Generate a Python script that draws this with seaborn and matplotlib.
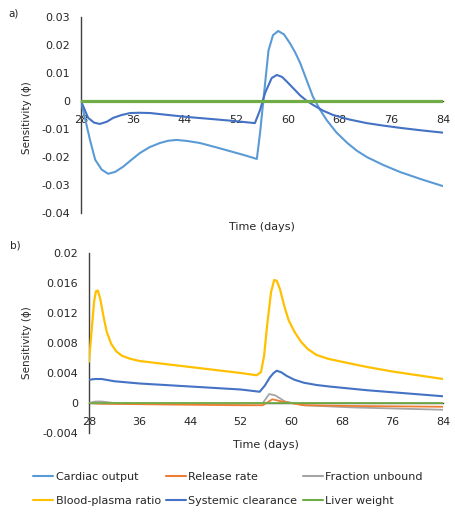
import numpy as np
import pandas as pd
import matplotlib
matplotlib.use("Agg")
import matplotlib.pyplot as plt
from matplotlib.lines import Line2D
import seaborn as sns

sns.set_style("white")
plt.rcParams['font.family'] = ['DejaVu Sans']

# colours (Excel office palette)
colors = {
    'Cardiac output': '#5B9BD5',
    'Release rate': '#ED7D31',
    'Fraction unbound': '#A5A5A5',
    'Blood-plasma ratio': '#FFC000',
    'Systemic clearance': '#4472C4',
    'Liver weight': '#70AD47',
}
# legend is filled row by row: 3 per row
legend_rows = [['Cardiac output', 'Release rate', 'Fraction unbound'],
               ['Blood-plasma ratio', 'Systemic clearance', 'Liver weight']]

# ---- panel a data ----
a_cardiac_days = [28, 28.6, 29.4, 30.2, 31.2, 32.2, 33.3, 34.5, 35.8, 37.1, 38.6, 40.2, 41.5,
                  42.8, 44.5, 46.4, 49, 51.5, 53.5, 55.2, 55.7, 56.2, 57, 57.7, 58.5, 59.4,
                  60.3, 61.1, 61.9, 62.9, 63.9, 65, 66, 67.5, 69.2, 70.7, 72.2, 74.8, 77.4,
                  80.7, 84]
a_cardiac_vals = [0, -0.006, -0.014, -0.021, -0.0245, -0.026, -0.0253, -0.0235, -0.021, -0.0186,
                  -0.0165, -0.015, -0.0142, -0.0139, -0.0143, -0.015, -0.0166, -0.0182, -0.0195,
                  -0.0207, -0.0114, 0, 0.018, 0.0235, 0.025, 0.0238, 0.0207, 0.0175, 0.0136,
                  0.0075, 0.0014, -0.0032, -0.0068, -0.0112, -0.015, -0.0178, -0.02, -0.0229,
                  -0.0254, -0.028, -0.0304]

a_clear_days = [28, 29.1, 30.0, 30.9, 32.0, 33.0, 34.3, 35.6, 37.0, 38.7, 41.5, 44.4, 48, 51.5,
                54.9, 55.7, 56.5, 57.5, 58.3, 59.1, 59.9, 60.9, 61.9, 62.9, 63.9, 65.4, 67,
                69.5, 72.2, 74.8, 77.4, 80.7, 84]
a_clear_vals = [0, -0.006, -0.0077, -0.0082, -0.0074, -0.006, -0.005, -0.0043, -0.0042, -0.0043,
                -0.005, -0.0057, -0.0064, -0.0071, -0.0079, -0.0032, 0.003, 0.0082, 0.0093,
                0.0086, 0.0068, 0.0044, 0.002, 0.0001, -0.0014, -0.0034, -0.005, -0.0066,
                -0.0079, -0.0088, -0.0096, -0.0105, -0.0113]

a_liver_days = [28, 84]
a_liver_vals = [0, 0]

# ---- panel b data ----
b_bp_days = [28, 28.4, 28.8, 29.1, 29.4, 29.8, 30.3, 30.8, 31.5, 32.3, 33.2, 34.5, 36, 40, 44,
             48, 52, 54.5, 55.2, 55.7, 56.2, 56.8, 57.3, 57.7, 58.2, 58.9, 59.6, 60.5, 61.5,
             62.6, 64, 65.8, 68, 72, 76, 80, 84]
b_bp_vals = [0.0055, 0.0095, 0.0135, 0.0149, 0.015, 0.0138, 0.0115, 0.0095, 0.0079, 0.0069,
             0.0063, 0.0059, 0.0056, 0.0052, 0.0048, 0.0044, 0.004, 0.0037, 0.0041, 0.0063,
             0.0105, 0.0148, 0.0164, 0.0163, 0.0152, 0.0129, 0.011, 0.0095, 0.0082, 0.0072,
             0.0064, 0.0059, 0.0055, 0.0048, 0.0042, 0.0037, 0.0032]

b_clear_days = [28, 29, 30, 32, 36, 44, 52, 55, 55.8, 56.6, 57.2, 57.7, 58.4, 59.3, 60.5, 62,
                64, 66, 72, 78, 84]
b_clear_vals = [0.0031, 0.0032, 0.0032, 0.0029, 0.0026, 0.0022, 0.0018, 0.0015, 0.0023, 0.0034,
                0.004, 0.0043, 0.0041, 0.0036, 0.0031, 0.0027, 0.0024, 0.0022, 0.0017, 0.0013,
                0.0009]

b_frac_days = [28, 29, 30, 32, 40, 52, 55.5, 56.5, 57.5, 59, 62, 70, 84]
b_frac_vals = [0, 0.0002, 0.0002, 0, -0.0001, -0.0001, 0, 0.0012, 0.001, 0.0002, -0.0003,
               -0.0006, -0.0009]

b_rel_days = [28, 30, 40, 52, 55.5, 57, 58.5, 62, 70, 84]
b_rel_vals = [0, -0.0001, -0.0002, -0.0003, -0.0003, 0.0005, 0.0002, -0.0003, -0.0004, -0.0005]

b_liver_days = [28, 84]
b_liver_vals = [0, 0]

a_yticks = [0.03, 0.02, 0.01, 0, -0.01, -0.02, -0.03, -0.04]
a_yticklabels = ['0.03', '0.02', '0.01', '0', '-0.01', '-0.02', '-0.03', '-0.04']
b_yticks = [0.02, 0.016, 0.012, 0.008, 0.004, 0, -0.004]
b_yticklabels = ['0.02', '0.016', '0.012', '0.008', '0.004', '0', '-0.004']
xticks = [28, 36, 44, 52, 60, 68, 76, 84]

fig = plt.figure(figsize=(4.56, 5.12), dpi=100)
ax_a = fig.add_axes([81 / 456, 1 - 213 / 512, 362 / 456, 196 / 512])
ax_b = fig.add_axes([89 / 456, 1 - 433 / 512, 354 / 456, 180 / 512])


def draw(ax, name, days, vals, lw):
    sns.lineplot(x=days, y=vals, ax=ax, color=colors[name], linewidth=lw, sort=False,
                 estimator=None, legend=False, zorder=3)


draw(ax_a, 'Cardiac output', a_cardiac_days, a_cardiac_vals, 1.5)
draw(ax_a, 'Systemic clearance', a_clear_days, a_clear_vals, 1.5)
draw(ax_a, 'Liver weight', a_liver_days, a_liver_vals, 2.3)

draw(ax_b, 'Fraction unbound', b_frac_days, b_frac_vals, 1.3)
draw(ax_b, 'Release rate', b_rel_days, b_rel_vals, 1.3)
draw(ax_b, 'Blood-plasma ratio', b_bp_days, b_bp_vals, 1.6)
draw(ax_b, 'Systemic clearance', b_clear_days, b_clear_vals, 1.5)
draw(ax_b, 'Liver weight', b_liver_days, b_liver_vals, 1.3)


def style(ax, yticks, yticklabels, ylim):
    ax.set_xlim(28, 84)
    ax.set_ylim(*ylim)
    ax.set_xticks(xticks)
    ax.set_yticks(yticks)
    ax.set_yticklabels(yticklabels)
    ax.spines['top'].set_visible(False)
    ax.spines['right'].set_visible(False)
    ax.spines['bottom'].set_position(('data', 0))
    for s in ['left', 'bottom']:
        ax.spines[s].set_color('#404040')
        ax.spines[s].set_linewidth(1.0)
    ax.tick_params(axis='both', labelsize=8, colors='#404040', labelcolor='#262626',
                   direction='out', length=3, width=0.8)
    ax.tick_params(axis='x', pad=7)
    ax.tick_params(axis='y', pad=5)
    ax.set_xlabel('')
    ax.set_ylabel('')
    ax.set_facecolor('none')


style(ax_a, a_yticks, a_yticklabels, (-0.04, 0.03))
style(ax_b, b_yticks, b_yticklabels, (-0.004, 0.02))

ax_a.text(0.5, -0.07, 'Time (days)', transform=ax_a.transAxes, ha='center', va='center',
          fontsize=8, color='#262626')
ax_b.text(0.5, -0.067, 'Time (days)', transform=ax_b.transAxes, ha='center', va='center',
          fontsize=8, color='#262626')
fig.text(27 / 456, 1 - 118 / 512, 'Sensitivity (ϕ)', rotation=90, ha='center', va='center',
         fontsize=7.5, color='#262626')
fig.text(27 / 456, 1 - 343 / 512, 'Sensitivity (ϕ)', rotation=90, ha='center', va='center',
         fontsize=7.5, color='#262626')
fig.text(8 / 456, 1 - 13 / 512, 'a)', ha='left', va='center', fontsize=7.5, color='#262626')
fig.text(10 / 456, 1 - 245 / 512, 'b)', ha='left', va='center', fontsize=7.5, color='#262626')

# matplotlib fills legend columns first, so order by column
legend_order = [legend_rows[r][c] for c in range(3) for r in range(2)]
handles = [Line2D([0], [0], color=colors[n], linewidth=1.5) for n in legend_order]
fig.legend(handles, legend_order, ncol=3, loc='center', bbox_to_anchor=(0.5, 1 - 489 / 512),
           frameon=False, fontsize=8, handlelength=1.8, handletextpad=0.2,
           columnspacing=0.5, labelspacing=1.2, borderaxespad=0)

fig.savefig('out.png', dpi=100)
